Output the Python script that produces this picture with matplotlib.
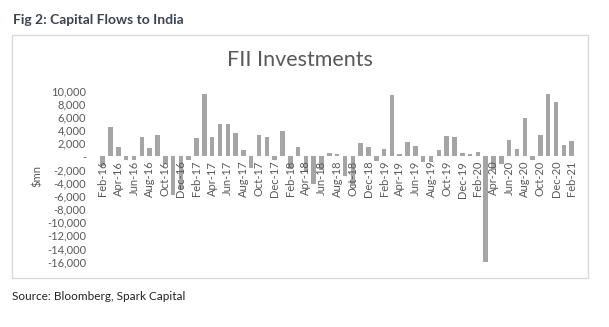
import numpy as np
import matplotlib
matplotlib.use("Agg")
import matplotlib.pyplot as plt
from matplotlib.patches import Rectangle

plt.rcParams['font.family'] = ['Lato', 'DejaVu Sans']

# monthly FII flows, $mn, Feb-16 .. Feb-21
months = ['Feb-16', 'Mar-16', 'Apr-16', 'May-16', 'Jun-16', 'Jul-16', 'Aug-16', 'Sep-16', 'Oct-16', 'Nov-16',
          'Dec-16', 'Jan-17', 'Feb-17', 'Mar-17', 'Apr-17', 'May-17', 'Jun-17', 'Jul-17', 'Aug-17', 'Sep-17',
          'Oct-17', 'Nov-17', 'Dec-17', 'Jan-18', 'Feb-18', 'Mar-18', 'Apr-18', 'May-18', 'Jun-18', 'Jul-18',
          'Aug-18', 'Sep-18', 'Oct-18', 'Nov-18', 'Dec-18', 'Jan-19', 'Feb-19', 'Mar-19', 'Apr-19', 'May-19',
          'Jun-19', 'Jul-19', 'Aug-19', 'Sep-19', 'Oct-19', 'Nov-19', 'Dec-19', 'Jan-20', 'Feb-20', 'Mar-20',
          'Apr-20', 'May-20', 'Jun-20', 'Jul-20', 'Aug-20', 'Sep-20', 'Oct-20', 'Nov-20', 'Dec-20', 'Jan-21',
          'Feb-21']
fii = [-1500, 4500, 1400, -600, -500, 3000, 1300, 3200, -1200, -5800,
       -5000, -500, 2800, 9500, 3000, 4900, 4900, 3600, 1000, -1700,
       3200, 3000, -600, 3800, -1900, 1500, -2200, -4200, -2000, 500,
       400, -2900, -4500, 2000, 1500, -700, 1100, 9300, 400, 2200,
       1600, -800, -800, 1000, 3100, 3000, 500, 300, 700, -16100,
       -2000, -1100, 2500, 1100, 5900, -500, 3200, 9500, 8300, 1700,
       2300]
yticks = [10000, 8000, 6000, 4000, 2000, 0, -2000, -4000, -6000, -8000,
          -10000, -12000, -14000, -16000]

W, H = 609, 327
fig = plt.figure(figsize=(W / 100, H / 100), dpi=100)
txt = '#595959'

# frame around the chart
fig.patches.append(Rectangle((12 / W, 1 - 278 / H), 576 / W, 243 / H, transform=fig.transFigure,
                             fill=False, edgecolor='#d9d9d9', linewidth=1))

x = np.arange(len(months))
left, right = 95.7, 578.7
top, bottom = 90.7, 261.7
ax = fig.add_axes([left / W, 1 - bottom / H, (right - left) / W, (bottom - top) / H])
ax.bar(x, fii, width=0.58, color='#a5a5a5')
ax.set_xlim(-0.9, len(months) - 0.1)
ax.set_ylim(-16000, 10000)

for s in ax.spines.values():
    s.set_visible(False)
ax.set_yticks(yticks)
ax.set_yticklabels(['-' if v == 0 else f'{v:,}' for v in yticks], fontsize=8, color=txt)
ax.tick_params(axis='y', length=0, pad=7)
ax.set_xticks([])

# category labels sit just under the zero line
for i in range(0, len(months), 2):
    ax.annotate(months[i], (x[i], 0), xytext=(0, -3), textcoords='offset points',
                rotation=90, ha='center', va='top', fontsize=8, color=txt)

fig.text(37 / W, 1 - 176 / H, '$mn', rotation=90, ha='center', va='center', fontsize=8, color=txt)
fig.text(300 / W, 1 - 60 / H, 'FII Investments', ha='center', va='center', fontsize=15.5, color=txt)
fig.text(13 / W, 1 - 20 / H, 'Fig 2: Capital Flows to India', ha='left', va='center',
         fontsize=10, fontweight='bold', color='#3b4252')
fig.text(12 / W, 1 - 297 / H, 'Source: Bloomberg, Spark Capital', ha='left', va='center',
         fontsize=8.5, color='#222222')

fig.savefig('out.png', dpi=100)
